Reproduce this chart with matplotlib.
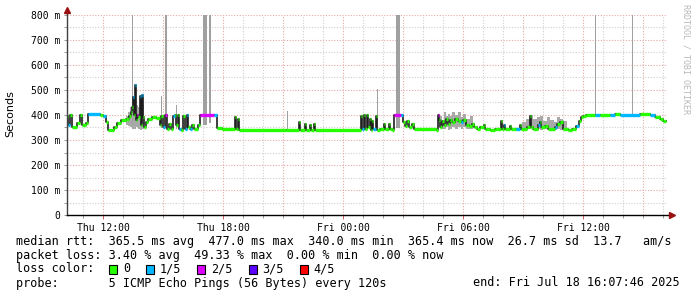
import numpy as np
import matplotlib.pyplot as plt
from matplotlib.patches import Rectangle

# time in hours since Thu 00:00, rtt in ms
med_t = [10.15, 10.25, 10.35, 10.45, 10.70, 10.85, 10.95, 11.15, 11.25, 11.85,
         12.00, 12.15, 12.25, 12.55, 12.70, 12.90, 13.15, 13.30, 13.40, 13.45,
         13.50, 13.55, 13.60, 13.65, 13.70, 13.75, 13.85, 13.90, 13.95, 14.00,
         14.05, 14.15, 14.25, 14.45, 14.65, 14.85, 14.90, 15.00, 15.10, 15.20,
         15.30, 15.40, 15.50, 15.60, 15.65, 15.75, 15.80, 15.90, 16.00, 16.10,
         16.20, 16.25, 16.35, 16.45, 16.55, 16.75, 16.85, 17.55, 17.70, 17.95,
         18.60, 18.65, 18.75, 18.80, 21.15, 21.80, 21.85, 22.10, 22.15, 22.35,
         22.40, 22.55, 22.60, 24.90, 24.95, 25.05, 25.10, 25.20, 25.25, 25.35,
         25.40, 25.45, 25.50, 25.65, 25.70, 25.85, 26.05, 26.10, 26.30, 26.35,
         26.45, 26.55, 26.90, 27.00, 27.10, 27.20, 27.30, 27.45, 27.55, 28.65,
         28.75, 28.80, 28.85, 28.95, 29.05, 29.15, 29.25, 29.35, 29.45, 29.60,
         29.75, 29.90, 30.00, 30.15, 30.30, 30.45, 30.55, 30.70, 30.85, 31.05,
         31.10, 31.35, 31.60, 31.90, 31.95, 32.05, 32.10, 32.35, 32.40, 32.65,
         32.85, 32.90, 33.20, 33.35, 33.40, 33.50, 33.75, 33.85, 33.90, 34.10,
         34.25, 34.60, 34.70, 34.85, 35.00, 35.25, 35.45, 35.65, 35.80, 35.90,
         36.00, 36.15, 36.60, 36.85, 37.35, 37.60, 37.85, 38.85, 39.35, 39.60,
         39.85, 40.00]
med_ms = [395, 360, 398, 352, 368, 398, 358, 368, 402, 398,
          395, 372, 340, 352, 368, 378, 382, 395, 410, 430,
          470, 400, 520, 380, 400, 390, 475, 360, 480, 390,
          350, 370, 385, 392, 388, 360, 395, 350, 400, 345,
          365, 345, 395, 400, 360, 400, 345, 340, 395, 345,
          400, 350, 345, 360, 345, 360, 400, 400, 348, 345,
          390, 345, 385, 340, 340, 370, 340, 365, 340, 360,
          340, 365, 340, 395, 345, 400, 345, 398, 350, 385,
          340, 375, 345, 395, 340, 345, 365, 345, 362, 345,
          340, 400, 400, 370, 355, 375, 350, 365, 345, 340,
          400, 380, 350, 375, 360, 385, 365, 380, 370, 385,
          375, 370, 380, 360, 355, 365, 350, 345, 350, 360,
          345, 340, 345, 375, 345, 360, 345, 355, 345, 345,
          360, 345, 350, 395, 350, 345, 360, 370, 350, 355,
          345, 350, 365, 370, 345, 340, 345, 355, 375, 390,
          395, 398, 398, 400, 400, 402, 400, 402, 398, 392,
          385, 375]
med_loss = [0, 1, 0, 0, 0, 0, 0, 0, 1, 0,
            1, 0, 0, 0, 0, 0, 0, 0, 0, 0,
            1, 0, 1, 0, 2, 0, 1, 0, 1, 0,
            0, 0, 0, 0, 0, 0, 0, 1, 2, 0,
            0, 0, 1, 0, 0, 0, 1, 0, 0, 1,
            1, 0, 1, 0, 0, 0, 2, 1, 0, 0,
            0, 0, 0, 0, 0, 0, 0, 0, 0, 0,
            0, 0, 0, 0, 1, 0, 0, 0, 0, 0,
            0, 0, 1, 0, 0, 0, 0, 0, 0, 0,
            0, 2, 1, 0, 0, 0, 0, 0, 0, 0,
            2, 0, 0, 0, 0, 0, 0, 0, 0, 0,
            0, 1, 0, 0, 0, 0, 0, 0, 0, 0,
            0, 0, 0, 0, 0, 1, 0, 0, 0, 1,
            0, 0, 0, 0, 0, 0, 1, 0, 0, 0,
            0, 1, 0, 0, 0, 0, 0, 1, 0, 0,
            0, 0, 1, 0, 1, 0, 1, 0, 1, 0,
            0, 0]
end_t = 40.15

nan = np.nan
smoke_t = [13.15, 13.25, 13.35, 13.45, 13.55, 13.65, 13.75, 13.85, 13.95, 14.05,
           14.10, 14.20, 14.75, 14.85, 15.35, 15.65, 16.75, 16.90, 17.10, 27.00,
           27.65, 28.85, 28.95, 29.05, 29.15, 29.25, 29.35, 29.45, 29.60, 29.75,
           29.90, 30.00, 30.15, 30.35, 30.50, 30.65, 32.95, 33.15, 33.35, 33.50,
           33.70, 33.85, 34.00, 34.20, 34.35, 34.55, 34.70, 34.85, 35.00, 35.20,
           35.35, 35.65, 35.85, 39.25, 40.15]
smoke_lo = [360, 355, 350, 345, 345, 350, 345, 340, 345, 350,
            nan, 370, nan, 350, nan, 345, nan, 370, nan, 345,
            nan, 350, 345, 345, 350, 340, 345, 350, 345, 350,
            345, 350, 345, 345, 345, nan, 345, 345, 345, 340,
            345, 340, 345, 345, 345, 340, 345, 340, 345, 345,
            nan, 345, nan, 370, nan]
smoke_hi = [395, 410, 430, 440, 470, 440, 430, 470, 440, 410,
            nan, 395, nan, 400, nan, 400, nan, 400, nan, 400,
            nan, 395, 380, 410, 395, 405, 395, 410, 400, 410,
            390, 405, 385, 395, 375, nan, 370, 385, 400, 385,
            390, 395, 375, 390, 380, 370, 390, 385, 375, 370,
            nan, 390, nan, 400, nan]

spike_t0 = [13.45, 14.90, 15.10, 15.65, 17.00, 17.30, 21.20, 25.70, 26.65, 36.60, 38.45]
spike_t1 = [13.50, 14.95, 15.20, 15.70, 17.20, 17.40, 21.25, 25.75, 26.85, 36.65, 38.50]
spike_lo = [360, 350, 350, 345, 360, 370, 340, 340, 350, 390, 395]
spike_hi = [800, 475, 800, 440, 800, 800, 415, 503, 800, 800, 800]

y_ticks = [0, 100, 200, 300, 400, 500, 600, 700, 800]
y_labels = ['0', '100 m', '200 m', '300 m', '400 m', '500 m', '600 m', '700 m', '800 m']
x_ticks = [12, 18, 24, 30, 36]
x_labels = ['Thu 12:00', 'Thu 18:00', 'Fri 00:00', 'Fri 06:00', 'Fri 12:00']

loss_colors = ['#26ff00', '#00b8ff', '#dd00ff', '#5e00ff', '#ff0000']
loss_labels = ['0', '1/5', '2/5', '3/5', '4/5']

line_rtt = 'median rtt:  365.5 ms avg  477.0 ms max  340.0 ms min  365.4 ms now  26.7 ms sd  13.7   am/s'
line_loss = 'packet loss: 3.40 % avg  49.33 % max  0.00 % min  0.00 % now'
line_probe = 'probe:       5 ICMP Echo Pings (56 Bytes) every 120s'
line_end = 'end: Fri Jul 18 16:07:46 2025'

W, H = 697, 297
mono = 'DejaVu Sans Mono'
fig = plt.figure(figsize=(W / 100, H / 100), dpi=100)
ax = fig.add_axes([67 / W, 82 / H, 600 / W, 200 / H])
ax.set_xlim(10.2, 40.2)
ax.set_ylim(0, 800)
for s in ax.spines.values():
    s.set_visible(False)

# grid
for v in range(50, 801, 50):
    c = '#e3a8a8' if v % 100 == 0 else '#cfcfcf'
    ax.axhline(v, color=c, lw=0.8, ls=(0, (1, 1.5)), zorder=0)
for h in range(11, 41):
    c = '#e3a8a8' if h % 3 == 0 else '#cfcfcf'
    ax.axvline(h, color=c, lw=0.8, ls=(0, (1, 1.5)), zorder=0)

# smoke and spikes
ax.fill_between(smoke_t, smoke_lo, smoke_hi, step='post', color='#a9a9a9', lw=0, zorder=1)
ax.bar(spike_t0, np.subtract(spike_hi, spike_lo), width=np.subtract(spike_t1, spike_t0),
       bottom=spike_lo, align='edge', color='#a0a0a0', lw=0, zorder=1)

# median line: dark step + loss coloured pieces
tt = med_t + [end_t]
ax.step(tt, med_ms + [med_ms[-1]], where='post', color='#1e1e1e', lw=1.2, zorder=2)
ax.hlines(med_ms, med_t, tt[1:], colors=[loss_colors[l] for l in med_loss], lw=2.4, zorder=3)

# axes lines with arrows
ax.plot([10.2, 10.2], [0, 815], color='#404040', lw=1, clip_on=False, zorder=4)
ax.plot([10.2, 40.4], [0, 0], color='black', lw=1, clip_on=False, zorder=4)
ax.plot([10.2], [818], marker='^', ms=4, color='#9a1010', clip_on=False, zorder=5)
ax.plot([40.45], [0], marker='>', ms=4, color='#9a1010', clip_on=False, zorder=5)

ax.set_yticks(y_ticks)
ax.set_yticklabels(y_labels, family=mono, fontsize=7)
ax.set_yticks(range(50, 800, 100), minor=True)
ax.set_xticks(x_ticks)
ax.set_xticklabels(x_labels, family=mono, fontsize=7)
ax.set_xticks(range(11, 41), minor=True)
ax.tick_params(axis='y', which='both', length=2, width=0.6, color='#888888', pad=3)
ax.tick_params(axis='x', which='major', length=3, width=0.6, color='#cc4444', pad=3)
ax.tick_params(axis='x', which='minor', length=2, width=0.6, color='#888888')

fig.text(10 / W, 1 - 114 / H, 'Seconds', rotation=90, fontsize=8, ha='center', va='center')
fig.text(686 / W, 1 - 4 / H, 'RRDTOOL / TOBI OETIKER', rotation=270, family=mono,
         fontsize=6, color='#b8b8b8', ha='center', va='top')

# legend block
rows = [241, 255, 269, 283]
fig.text(16 / W, 1 - rows[0] / H, line_rtt, family=mono, fontsize=8.5, va='center')
fig.text(16 / W, 1 - rows[1] / H, line_loss, family=mono, fontsize=8.5, va='center')
fig.text(16 / W, 1 - rows[2] / H, 'loss color:', family=mono, fontsize=8.5, va='center')
fig.text(16 / W, 1 - rows[3] / H, line_probe, family=mono, fontsize=8.5, va='center')
fig.text(680 / W, 1 - rows[3] / H, line_end, family=mono, fontsize=8.5, va='center', ha='right')

x = 109
for c, lab in zip(loss_colors, loss_labels):
    fig.patches.append(Rectangle((x / W, 1 - (rows[2] + 4.5) / H), 8 / W, 9 / H,
                                 transform=fig.transFigure, facecolor=c,
                                 edgecolor='black', lw=0.8))
    fig.text((x + 14) / W, 1 - rows[2] / H, lab, family=mono, fontsize=8.5, va='center')
    x = x + 14 + len(lab) * 7.08 + 16

fig.savefig('out.png', dpi=100)
